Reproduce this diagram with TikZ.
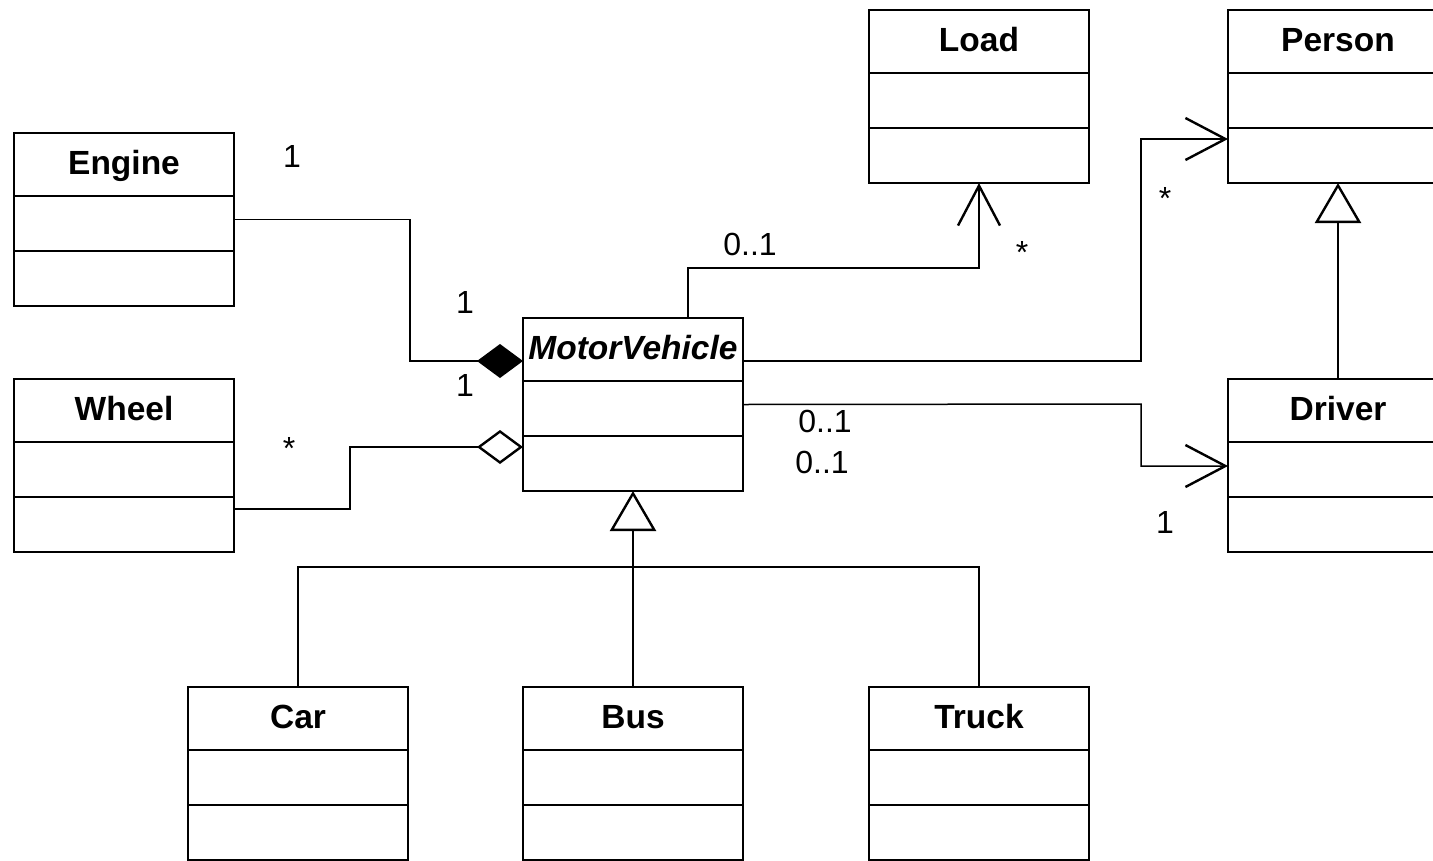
\documentclass[tikz,border=0pt]{standalone}
\usepackage{fontspec}
\setmainfont{Liberation Sans}
\usetikzlibrary{arrows.meta}
\tikzset{
 clsbox/.style={draw, line width=2.8pt, minimum width=220pt, minimum height=173pt, inner sep=0pt, outer sep=0pt, anchor=north west},
 clsdiv/.style={line width=2.8pt},
 clsname/.style={anchor=base, inner sep=0pt, font=\fontsize{33.5}{40}\selectfont\bfseries},
 conn/.style={line width=1.5pt},
 mult/.style={anchor=base, inner sep=0pt, font=\fontsize{32}{38}\selectfont},
 comp/.style={-{Diamond[length=46pt,width=34pt,line width=2.4pt,fill=black]}},
 aggr/.style={-{Diamond[length=46pt,width=34pt,line width=2.4pt,open]}},
 nav/.style={-{Straight Barb[length=40pt,width=42pt,line width=2.4pt]}},
 gen/.style={-{Triangle[length=40pt,width=46pt,line width=2.4pt,open]}},
}
\newcommand\umlclass[4]{%
 \node[clsbox] (#1) at (#2,#3) {};
 \node[clsname] (#1-name) at ([yshift=-41pt]#1.north) {#4};
 \draw[clsdiv] ([yshift=-63pt]#1.north west) -- ([yshift=-63pt]#1.north east);
 \draw[clsdiv] ([yshift=-118pt]#1.north west) -- ([yshift=-118pt]#1.north east);
}
\begin{document}
\begin{tikzpicture}[x=1pt,y=-1pt]
\useasboundingbox (0,0) rectangle (1433,860);
\clip (0,0) rectangle (1433,860);
\fill[white] (0,0) rectangle (1433,860);
\umlclass{engine}{14}{133}{Engine}
\umlclass{wheel}{14}{379}{Wheel}
\umlclass{mv}{523}{318}{\itshape MotorVehicle}
\umlclass{load}{869}{10}{Load}
\umlclass{person}{1228}{10}{Person}
\umlclass{driver}{1228}{379}{Driver}
\umlclass{car}{188}{687}{Car}
\umlclass{bus}{523}{687}{Bus}
\umlclass{truck}{869}{687}{Truck}
% connectors
\draw[conn,comp] (engine.east) -| (410,361) -- (mv.west |- 0,361);
\draw[conn,aggr] (wheel.east |- 0,509) -| (350,447) -- (mv.west |- 0,447);
\draw[conn,nav] (688,0 |- mv.north) |- (load.south |- 0,268) -- (load.south);
\draw[conn,nav] (mv.east |- 0,361) -- (1141,361) |- (person.west |- 0,139);
\draw[conn,nav] (mv.east) -- (1141,404) |- (driver.west |- 0,466);
\draw[conn,gen] (driver.north) -- (person.south);
\draw[conn] (car.north) |- (truck.north |- 0,567) -- (truck.north);
\draw[conn,gen] (bus.north) -- (mv.south);
% multiplicities
\node[mult] (m1) at (292,167) {1};
\node[mult] (m2) at (465,313) {1};
\node[mult] (m3) at (465,396) {1};
\node[mult] (m4) at (289,459) {*};
\node[mult] (m5) at (750,255) {0..1};
\node[mult] (m6) at (1022,263) {*};
\node[mult] (m7) at (1165,209) {*};
\node[mult] (m8) at (825,432) {0..1};
\node[mult] (m9) at (822,473) {0..1};
\node[mult] (m10) at (1165,533) {1};
\end{tikzpicture}
\end{document}
